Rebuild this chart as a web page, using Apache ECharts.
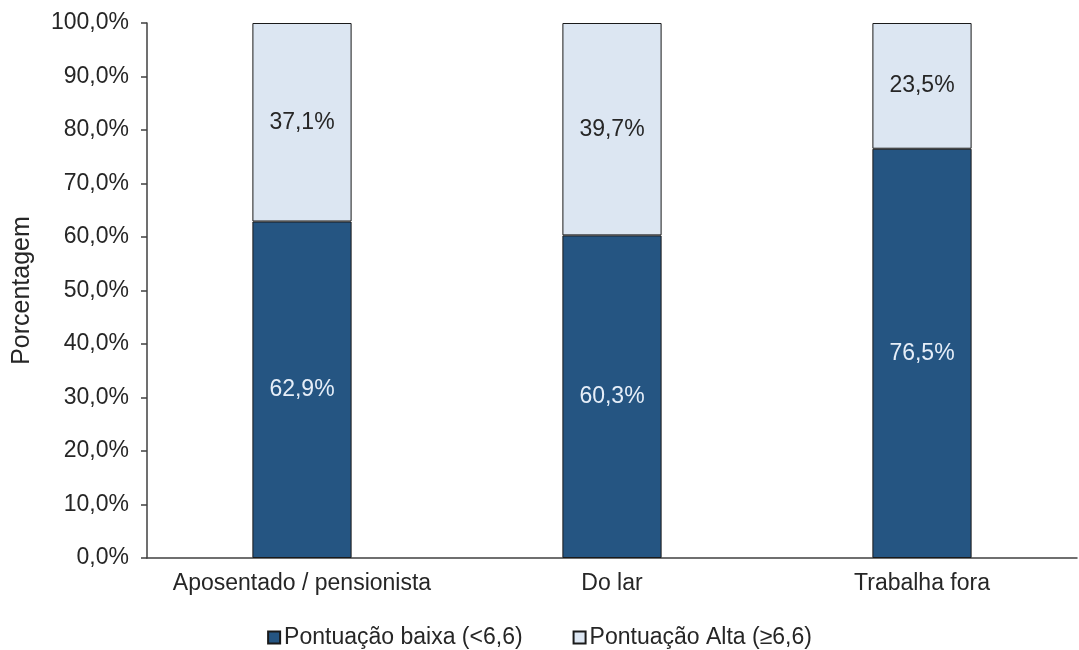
<!DOCTYPE html>
<html>
<head>
<meta charset="utf-8">
<script src="https://cdn.jsdelivr.net/npm/echarts@6/dist/echarts.min.js"></script>
<style>
  html, body { margin: 0; padding: 0; background: #ffffff; }
  #chart { width: 1079px; height: 650px; }
</style>
</head>
<body>
<div id="chart"></div>
<script>
// Categories and percentages per group
const categories = ['Aposentado / pensionista', 'Do lar', 'Trabalha fora'];
const lowScore = [62.9, 60.3, 76.5];
const highScore = [37.1, 39.7, 23.5];
const seriesNames = ['Pontuação baixa (<6,6)', 'Pontuação Alta (≥6,6)'];

const fmt = v => v.toFixed(1).replace('.', ',') + '%';
const FONT = 'Liberation Sans, Arial, sans-serif';
const TEXT = '#262626';

const chart = echarts.init(document.getElementById('chart'));
chart.setOption({
  animation: false,
  textStyle: { fontFamily: FONT },
  grid: { left: 147, right: 2, top: 23, bottom: 92, containLabel: false },
  legend: {
    top: 621,
    left: 'center',
    itemWidth: 12,
    itemHeight: 12,
    itemGap: 50,
    icon: 'rect',
    textStyle: { fontFamily: FONT, fontSize: 23, color: TEXT, padding: [0, 0, 0, -1] },
    data: seriesNames
  },
  xAxis: {
    type: 'category',
    data: categories,
    axisLine: { lineStyle: { color: '#404040', width: 1.5 } },
    axisTick: { show: false },
    axisLabel: { color: TEXT, fontSize: 23, margin: 14, interval: 0, fontFamily: FONT },
    splitLine: { show: false }
  },
  yAxis: {
    type: 'value',
    min: 0,
    max: 100,
    interval: 10,
    name: 'Porcentagem',
    nameLocation: 'middle',
    nameGap: 112,
    nameRotate: 90,
    nameTextStyle: { color: TEXT, fontSize: 25, fontFamily: FONT },
    axisLine: { show: true, lineStyle: { color: '#404040', width: 1.5 } },
    axisTick: { show: true, inside: false, length: 6, lineStyle: { color: '#404040', width: 1.5 } },
    axisLabel: { color: TEXT, fontSize: 23, margin: 18, fontFamily: FONT, formatter: v => fmt(v) },
    splitLine: { show: false }
  },
  series: [
    {
      name: seriesNames[0],
      type: 'bar',
      stack: 'total',
      barWidth: '32%',
      data: lowScore,
      itemStyle: { color: '#255582', borderColor: '#1a1a1a', borderWidth: 1 },
      label: {
        show: true,
        position: 'inside',
        color: '#e6eef8',
        fontSize: 23,
        fontFamily: FONT,
        formatter: p => fmt(p.value)
      }
    },
    {
      name: seriesNames[1],
      type: 'bar',
      stack: 'total',
      barWidth: '32%',
      data: highScore,
      itemStyle: { color: '#dce6f2', borderColor: '#1a1a1a', borderWidth: 1 },
      label: {
        show: true,
        position: 'inside',
        color: TEXT,
        fontSize: 23,
        fontFamily: FONT,
        formatter: p => fmt(p.value)
      }
    }
  ]
});
</script>
</body>
</html>
